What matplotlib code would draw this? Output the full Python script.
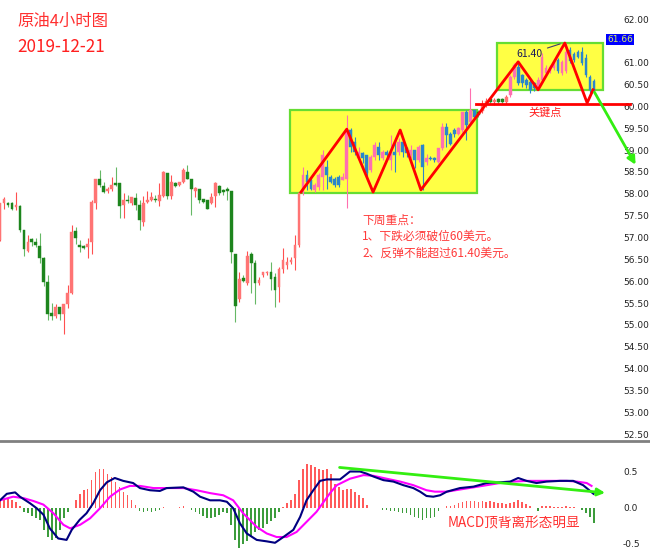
import matplotlib
matplotlib.use('Agg')
import matplotlib.pyplot as plt
from matplotlib.patches import Rectangle

plt.rcParams['font.family'] = ['Noto Sans CJK SC', 'DejaVu Sans']

# Bougies 4h (une par barre)
opens = [56.94, 57.78, 57.80, 57.80, 57.69, 57.72, 57.17, 56.69, 56.96, 56.90,
         56.80, 56.52, 55.99, 55.28, 55.21, 55.40, 55.25, 55.47, 55.73, 57.15,
         56.83, 56.81, 56.79, 56.89, 57.79, 58.33, 58.18, 58.07, 58.10, 58.24,
         58.24, 57.74, 57.87, 57.80, 57.91, 57.74, 57.36, 57.82, 57.86, 57.89,
         57.84, 57.95, 58.48, 57.95, 58.24, 58.20, 58.26, 58.49, 58.34, 58.07,
         58.10, 57.88, 57.86, 57.78, 57.95, 58.18, 58.08, 58.10, 58.07, 56.62,
         55.59, 56.08, 55.96, 56.62, 56.41, 55.95, 56.14, 56.18, 56.21, 56.10,
         55.87, 56.29, 56.37, 56.44, 56.52, 56.83, 58.05, 58.43, 58.31, 58.09,
         58.16, 58.39, 58.62, 58.39, 58.35, 58.39, 58.32, 58.35, 59.46, 59.19,
         58.81, 58.93, 58.89, 58.54, 58.85, 59.08, 58.81, 58.96, 58.77, 58.96,
         58.96, 59.19, 59.04, 58.89, 59.00, 58.77, 59.12, 58.73, 58.83, 58.81,
         58.73, 59.04, 59.53, 59.38, 59.46, 59.38, 59.46, 59.88, 59.65, 59.92,
         59.88, 59.90, 60.05, 60.18, 60.10, 60.18, 60.16, 60.10, 60.26, 60.68,
         60.91, 60.72, 60.60, 60.57, 60.53, 60.45, 60.60, 60.76, 60.80, 60.87,
         61.06, 60.76, 60.80, 61.29, 61.21, 61.25, 61.25, 61.10, 60.68, 60.58]
highs = [57.80, 57.93, 57.82, 57.82, 58.05, 57.74, 57.17, 57.05, 56.98, 56.98,
         57.11, 56.56, 56.14, 55.51, 55.49, 55.41, 55.49, 55.91, 57.28, 57.25,
         56.94, 56.83, 56.98, 57.86, 58.35, 58.54, 58.26, 58.16, 58.39, 58.62,
         58.24, 58.01, 57.97, 57.93, 58.01, 57.86, 57.95, 58.06, 58.05, 57.97,
         58.24, 58.52, 58.48, 58.43, 58.26, 58.28, 58.58, 58.66, 58.34, 58.16,
         58.10, 57.89, 57.87, 58.01, 58.28, 58.20, 58.10, 58.16, 58.07, 56.62,
         56.21, 56.15, 56.69, 56.66, 56.48, 56.10, 56.21, 56.24, 56.44, 56.18,
         56.33, 56.75, 56.56, 56.56, 57.06, 58.05, 58.62, 58.54, 58.39, 58.24,
         58.47, 59.00, 58.77, 58.43, 58.39, 58.43, 58.47, 59.80, 59.50, 59.31,
         59.08, 58.96, 58.89, 58.89, 59.19, 59.19, 59.00, 59.00, 59.34, 59.23,
         59.27, 59.19, 59.08, 59.12, 59.00, 59.12, 59.15, 58.92, 58.87, 58.85,
         59.04, 59.61, 59.61, 59.42, 59.50, 59.53, 59.88, 59.92, 60.41, 59.92,
         59.92, 60.15, 60.20, 60.22, 60.20, 60.20, 60.19, 60.25, 60.72, 61.00,
         61.00, 60.75, 60.64, 60.62, 60.57, 60.68, 61.22, 60.95, 60.95, 61.07,
         61.10, 61.07, 61.45, 61.35, 61.25, 61.30, 61.35, 61.20, 60.72, 60.62]
lows = [56.92, 57.66, 57.70, 57.64, 57.63, 57.13, 56.57, 56.67, 56.80, 56.79,
        56.41, 55.89, 55.12, 55.12, 55.15, 55.11, 54.80, 55.38, 55.70, 56.86,
        56.67, 56.73, 56.52, 56.63, 57.66, 58.16, 58.02, 58.01, 58.07, 58.18,
        57.44, 57.44, 57.78, 57.74, 57.63, 57.17, 57.26, 57.79, 57.84, 57.82,
        57.72, 57.93, 57.89, 57.89, 58.16, 58.18, 58.24, 58.34, 57.51, 57.92,
        57.79, 57.78, 57.65, 57.76, 57.70, 57.97, 57.97, 57.87, 56.41, 55.07,
        55.53, 55.99, 55.91, 55.72, 55.49, 55.91, 56.10, 56.14, 55.80, 55.42,
        55.53, 56.18, 56.29, 56.40, 56.26, 56.79, 57.97, 58.09, 58.09, 58.05,
        58.09, 58.09, 58.12, 58.24, 58.16, 58.16, 58.32, 57.67, 58.96, 58.89,
        58.77, 58.70, 58.39, 58.51, 58.77, 58.77, 58.77, 58.85, 58.54, 58.51,
        58.89, 58.85, 58.85, 58.81, 58.58, 58.73, 58.09, 58.66, 58.77, 58.73,
        58.70, 59.00, 59.08, 59.12, 59.31, 59.34, 59.42, 59.23, 59.57, 59.73,
        59.76, 59.85, 59.98, 60.05, 60.04, 60.06, 60.05, 60.06, 60.22, 60.62,
        60.48, 60.45, 60.41, 60.30, 60.35, 60.40, 60.55, 60.72, 60.76, 60.83,
        60.76, 60.72, 60.76, 60.99, 61.02, 61.10, 60.95, 60.68, 60.30, 60.30]
closes = [57.78, 57.89, 57.74, 57.66, 57.74, 57.17, 56.73, 56.90, 56.90, 56.84,
          56.54, 55.99, 55.25, 55.21, 55.41, 55.24, 55.47, 55.72, 57.13, 56.98,
          56.79, 56.77, 56.86, 57.82, 58.33, 58.21, 58.05, 58.10, 58.20, 58.20,
          57.72, 57.87, 57.83, 57.92, 57.74, 57.40, 57.80, 57.87, 57.92, 57.86,
          57.97, 58.50, 57.95, 58.26, 58.18, 58.26, 58.54, 58.34, 58.10, 58.14,
          57.87, 57.82, 57.66, 57.93, 58.24, 58.03, 58.05, 58.07, 56.66, 55.44,
          56.06, 56.01, 56.57, 56.42, 55.95, 56.03, 56.21, 56.21, 56.06, 55.80,
          56.29, 56.48, 56.44, 56.48, 56.83, 58.01, 58.43, 58.28, 58.12, 58.20,
          58.43, 58.89, 58.43, 58.28, 58.20, 58.20, 58.39, 59.46, 59.08, 58.96,
          58.96, 58.81, 58.47, 58.85, 59.12, 58.89, 58.96, 58.89, 58.93, 58.89,
          59.19, 58.96, 58.93, 59.00, 58.77, 59.08, 58.62, 58.81, 58.79, 58.77,
          59.04, 59.53, 59.34, 59.15, 59.38, 59.50, 59.88, 59.57, 59.92, 59.76,
          59.80, 60.05, 60.12, 60.10, 60.15, 60.10, 60.10, 60.22, 60.68, 60.95,
          60.53, 60.53, 60.49, 60.38, 60.41, 60.60, 61.14, 60.87, 60.91, 61.02,
          60.80, 61.02, 61.25, 61.03, 61.06, 61.14, 60.99, 60.72, 60.38, 60.36]

# Histogramme MACD (une valeur par barre)
hist = [0.10, 0.11, 0.13, 0.11, 0.08, 0.02, -0.06, -0.07, -0.12, -0.14,
        -0.18, -0.31, -0.41, -0.45, -0.43, -0.31, -0.15, -0.06, -0.01, 0.11,
        0.19, 0.24, 0.26, 0.38, 0.50, 0.54, 0.53, 0.47, 0.43, 0.36,
        0.29, 0.22, 0.17, 0.10, 0.03, -0.05, -0.06, -0.05, -0.06, -0.05,
        -0.04, 0.01, -0.01, -0.01, 0.00, 0.01, 0.02, -0.01, -0.03, -0.06,
        -0.09, -0.12, -0.14, -0.15, -0.13, -0.11, -0.06, -0.08, -0.24, -0.45,
        -0.56, -0.50, -0.46, -0.41, -0.34, -0.31, -0.28, -0.23, -0.19, -0.14,
        -0.06, 0.01, 0.06, 0.11, 0.19, 0.38, 0.54, 0.60, 0.59, 0.56,
        0.54, 0.52, 0.54, 0.47, 0.33, 0.29, 0.24, 0.26, 0.26, 0.22,
        0.17, 0.13, 0.03, 0.00, -0.01, -0.01, -0.04, -0.04, -0.05, -0.05,
        -0.06, -0.07, -0.08, -0.10, -0.13, -0.14, -0.17, -0.15, -0.14, -0.13,
        -0.05, -0.01, 0.02, 0.02, 0.03, 0.06, 0.08, 0.09, 0.09, 0.09,
        0.08, 0.09, 0.08, 0.09, 0.08, 0.06, 0.06, 0.05, 0.06, 0.08,
        0.10, 0.08, 0.05, 0.02, -0.01, -0.05, 0.02, 0.02, 0.02, 0.01,
        0.01, 0.01, 0.02, 0.01, 0.01, -0.01, -0.04, -0.08, -0.13, -0.22]

# Lignes MACD / signal (points relevés)
macd_x = [0, 1.7, 3.8, 5, 7.5, 9.2, 10.9, 12.5, 14.6, 16.7, 18, 20, 21.7, 23.4,
          25.1, 26.8, 28.8, 30.9, 33.4, 35.1, 37.6, 40.1, 41.8, 46, 48.5, 50.2,
          52.7, 55.2, 56.9, 58.5, 60.2, 61.9, 64.4, 66.9, 69, 71.1, 73.6, 75.3,
          76.9, 78.6, 80.3, 82, 85.3, 87.8, 90.3, 92, 93.7, 96.2, 98.7, 101.2,
          103.7, 105.4, 107, 108.7, 110.4, 112.1, 115.4, 118.8, 122.1, 125.4,
          128, 130, 132.1, 134.6, 137.1, 140.5, 143.8, 146.3, 148.9]
macd_y = [0.10, 0.19, 0.21, 0.15, 0.06, -0.01, -0.10, -0.29, -0.43, -0.45, -0.31,
          -0.17, -0.08, 0.06, 0.24, 0.35, 0.41, 0.37, 0.34, 0.27, 0.24, 0.23,
          0.27, 0.28, 0.22, 0.15, 0.10, 0.10, 0.08, -0.01, -0.22, -0.36, -0.45,
          -0.47, -0.49, -0.41, -0.31, -0.13, 0.10, 0.24, 0.37, 0.39, 0.39, 0.50,
          0.50, 0.47, 0.43, 0.38, 0.36, 0.31, 0.27, 0.22, 0.16, 0.15, 0.17, 0.22,
          0.27, 0.29, 0.34, 0.35, 0.36, 0.41, 0.37, 0.34, 0.36, 0.37, 0.37, 0.31,
          0.19]
sig_x = [0, 3.3, 5.9, 8.4, 10.9, 13.4, 15.9, 17.6, 20.1, 22.6, 25.1, 27.6, 30.1,
         32.6, 35.1, 38.5, 41.8, 46, 49.3, 52.7, 56, 58.5, 61, 64.4, 66.9, 69.4,
         71.9, 74.4, 76.9, 79.4, 82.8, 84.5, 87.8, 91.2, 93.7, 97, 100.4, 103.7,
         107, 109.1, 112.1, 115.4, 118.8, 122.1, 125.4, 128.8, 132.1, 137.1,
         142.2, 144.7, 147.2, 148.4]
sig_y = [0.10, 0.15, 0.13, 0.09, 0.04, -0.08, -0.24, -0.29, -0.24, -0.15, -0.01,
         0.15, 0.25, 0.30, 0.30, 0.27, 0.27, 0.27, 0.24, 0.20, 0.17, 0.10, -0.08,
         -0.27, -0.36, -0.41, -0.41, -0.34, -0.20, -0.06, 0.20, 0.31, 0.40, 0.45,
         0.44, 0.40, 0.36, 0.31, 0.24, 0.22, 0.22, 0.25, 0.28, 0.31, 0.34, 0.36,
         0.37, 0.37, 0.37, 0.36, 0.34, 0.30]

# 61.50 est masqué par l'étiquette du prix courant
price_ticks = [52.5, 53.0, 53.5, 54.0, 54.5, 55.0, 55.5, 56.0, 56.5, 57.0,
               57.5, 58.0, 58.5, 59.0, 59.5, 60.0, 60.5, 61.0, 62.0]
macd_ticks = [-0.5, 0.0, 0.5]
prix_courant = '61.66'

# Tracé en zigzag (figure de tête), niveau clé, rectangles
zig_x = [75.5, 87, 93.6, 100.4, 105.6, 130, 135, 141.7, 147.3, 148.8]
zig_y = [58.04, 59.48, 58.04, 59.46, 58.09, 61.02, 60.38, 61.45, 60.08, 60.38]
niveau_cle = 60.06
boites = [(72.75, 119.7, 58.02, 59.92), (124.7, 151.3, 60.38, 61.45)]

fig = plt.figure(figsize=(6.5, 5.48), dpi=100)
ax = fig.add_axes([0, 1 - 441 / 548, 1, 441 / 548])
ax2 = fig.add_axes([0, 0, 1, 105 / 548])
xmax = 650 / 3.986

def dans_boite(i, o, c):
    m = (o + c) / 2
    for x0, x1, y0, y1 in boites:
        if x0 <= i <= x1 and y0 <= m <= y1:
            return True
    return False

for x0, x1, y0, y1 in boites:
    ax.add_patch(Rectangle((x0, y0), x1 - x0, y1 - y0, facecolor='#ffff44',
                           edgecolor='#66dd33', lw=1.6, zorder=1))

for i in range(len(opens)):
    o, h, l, c = opens[i], highs[i], lows[i], closes[i]
    hausse = c >= o
    if dans_boite(i, o, c):
        corps = '#ff6fb0' if hausse else '#2a86cc'
        meche = corps
    else:
        corps = '#ff7474' if hausse else '#1d851d'
        meche = '#ff5050' if hausse else '#66b866'
    ax.vlines(i, l, h, color=meche, lw=0.8, zorder=2)
    ax.bar(i, max(abs(c - o), 0.02), bottom=min(o, c), width=0.7,
           color=corps, edgecolor=corps, lw=0.3, zorder=3)

ax.plot(zig_x, zig_y, color='#ff0000', lw=2, zorder=4)
ax.plot([119.4, 158], [niveau_cle, niveau_cle], color='#ff0000', lw=2, zorder=4)
ax.annotate('', xy=(159.8, 58.61), xytext=(148.8, 60.38),
            arrowprops=dict(arrowstyle='-|>', color='#33ee11', lw=2,
                            mutation_scale=12), zorder=5)
ax.text(136.7, 59.86, '关键点', color='#ff1a1a', fontsize=8, ha='center', va='center')
ax.annotate('61.40', xy=(141.2, 61.45), xytext=(132.7, 61.20), color='#1a1a5a',
            fontsize=7.5, ha='center', va='center',
            arrowprops=dict(arrowstyle='-', color='#404070', lw=0.8))

ax.set_xlim(0, xmax)
ax.set_ylim(52.344, 62.435)
ax.set_yticks(price_ticks)
ax.set_yticklabels(['%.2f' % p for p in price_ticks], fontsize=6.5,
                   family='DejaVu Sans', color='#222222')
ax.yaxis.tick_right()
ax.tick_params(axis='y', length=0, pad=-19.4)
ax.set_xticks([])
for s in ['top', 'left', 'right']:
    ax.spines[s].set_visible(False)
ax.spines['bottom'].set_color('#808080')
ax.spines['bottom'].set_linewidth(2)

ax.text(152.3, 61.53, prix_courant, fontsize=6.5, family='DejaVu Sans',
        color='#d8f060', va='center', ha='left', zorder=6,
        bbox=dict(boxstyle='square,pad=0.15', facecolor='#0000ff', edgecolor='none'))

fig.text(17 / 650, 1 - 21.7 / 548, '原油4小时图', color='#ff3030', fontsize=11.8,
         va='center', ha='left')
fig.text(17 / 650, 1 - 46.7 / 548, '2019-12-21', color='#ff2020', fontsize=12.3,
         va='center', ha='left')
for k, ligne in enumerate(['下周重点：', '1、下跌必须破位60美元。', '2、反弹不能超过61.40美元。']):
    fig.text(362 / 650, 1 - (220 + 16.5 * k) / 548, ligne, color='#ff3a3a',
             fontsize=8.5, va='center', ha='left')

# Panneau MACD
couleurs = ['#ff5a5a' if v >= 0 else '#3c9c3c' for v in hist]
ax2.bar(range(len(hist)), hist, width=0.4, color=couleurs, zorder=1)
ax2.plot(macd_x, macd_y, color='#000080', lw=1.5, zorder=3)
ax2.plot(sig_x, sig_y, color='#ff00ff', lw=1.5, zorder=2)
ax2.annotate('', xy=(152.5, 0.20), xytext=(84.5, 0.56),
             arrowprops=dict(arrowstyle='-|>', color='#33ee11', lw=2,
                             mutation_scale=11), zorder=5)
ax2.text(129, -0.22, 'MACD顶背离形态明显', color='#ff3030', fontsize=9.8,
         ha='center', va='center')
ax2.set_xlim(0, xmax)
ax2.set_ylim(-0.5625, 0.896)
ax2.set_yticks(macd_ticks)
ax2.set_yticklabels(['%.1f' % v for v in macd_ticks], fontsize=6.5,
                    family='DejaVu Sans', color='#222222')
ax2.yaxis.tick_right()
ax2.tick_params(axis='y', length=0, pad=-19.4)
ax2.set_xticks([])
for s in ax2.spines.values():
    s.set_visible(False)

fig.savefig('out.png', dpi=100)
